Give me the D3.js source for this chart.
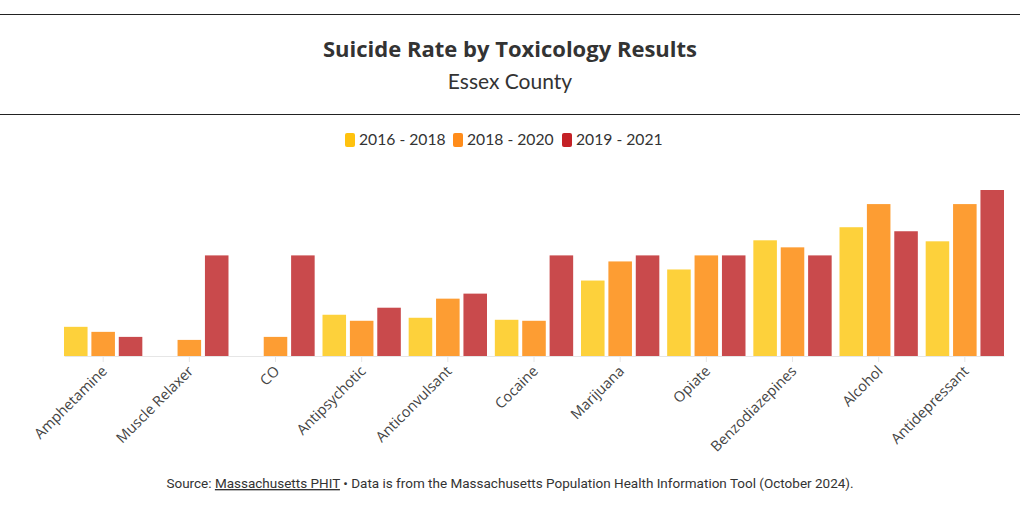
<!DOCTYPE html>
<html>
<head>
<meta charset="utf-8">
<script src="https://cdn.jsdelivr.net/npm/d3@7"></script>
<style>
  html, body { margin: 0; padding: 0; background: #fff; }
  svg { display: block; }
</style>
</head>
<body>
<svg id="chart" width="1020" height="506"></svg>
<script>
// ---- data (relative rate) ----
const categories = ["Amphetamine", "Muscle Relaxer", "CO", "Antipsychotic", "Anticonvulsant",
  "Cocaine", "Marijuana", "Opiate", "Benzodiazepines", "Alcohol", "Antidepressant"];
const seriesNames = ["2016 - 2018", "2018 - 2020", "2019 - 2021"];
const values2016_2018 = [0.29, null, null, 0.41, 0.38, 0.36, 0.75, 0.86, 1.15, 1.28, 1.14];
const values2018_2020 = [0.24, 0.16, 0.19, 0.35, 0.57, 0.35, 0.94, 1.00, 1.08, 1.51, 1.51];
const values2019_2021 = [0.19, 1.00, 1.00, 0.48, 0.62, 1.00, 1.00, 1.00, 1.00, 1.24, 1.65];
const seriesValues = [values2016_2018, values2018_2020, values2019_2021];
const legendColors = ["#FFC20E", "#FF8C1A", "#C42126"];
const barColors = ["#FDD13B", "#FD9D33", "#C94A4C"];

const svg = d3.select("#chart");
const W = 1020;
const textColor = "#333";

// header rules
svg.append("line").attr("x1", 0).attr("x2", W).attr("y1", 14.5).attr("y2", 14.5)
  .attr("stroke", "#222").attr("stroke-width", 1);
svg.append("line").attr("x1", 0).attr("x2", W).attr("y1", 114.5).attr("y2", 114.5)
  .attr("stroke", "#222").attr("stroke-width", 1);

svg.append("text").attr("x", W / 2).attr("y", 57).attr("text-anchor", "middle")
  .attr("font-family", "'Open Sans', sans-serif").attr("font-weight", 700).attr("font-size", 22)
  .attr("fill", textColor).text("Suicide Rate by Toxicology Results");
svg.append("text").attr("x", W / 2).attr("y", 89).attr("text-anchor", "middle")
  .attr("font-family", "Lato, sans-serif").attr("font-size", 21)
  .attr("fill", textColor).text("Essex County");

// legend
const legendX = [345, 453, 562];
const lg = svg.append("g");
seriesNames.forEach((name, i) => {
  lg.append("rect").attr("x", legendX[i]).attr("y", 133).attr("width", 10).attr("height", 14)
    .attr("rx", 2).attr("fill", legendColors[i]);
  lg.append("text").attr("x", legendX[i] + 14).attr("y", 145)
    .attr("font-family", "Lato, sans-serif").attr("font-size", 15.7)
    .attr("fill", textColor).text(name);
});

// scales
const x0 = d3.scaleBand().domain(categories).range([64, 1004]).paddingInner(0.091).paddingOuter(0);
const x1 = d3.scaleBand().domain(seriesNames).range([0, x0.bandwidth()]).paddingInner(0.14);
const y = d3.scaleLinear().domain([0, 1.65]).range([356, 190]);

const groups = svg.append("g").selectAll("g").data(categories).join("g")
  .attr("transform", d => `translate(${x0(d)},0)`);
groups.selectAll("rect")
  .data((d, ci) => seriesNames.map((s, si) => ({ s, si, v: seriesValues[si][ci] })).filter(o => o.v != null))
  .join("rect")
  .attr("x", o => x1(o.s)).attr("width", x1.bandwidth())
  .attr("y", o => y(o.v)).attr("height", o => y(0) - y(o.v))
  .attr("fill", o => barColors[o.si]);

// x axis
const ax = svg.append("g").attr("transform", `translate(0,${y(0)})`)
  .call(d3.axisBottom(x0).tickSize(6).tickSizeOuter(0));
ax.select(".domain").attr("stroke", "#e6e6e6");
ax.selectAll(".tick line").attr("stroke", "#e6e6e6");
ax.selectAll(".tick text")
  .attr("font-family", "'Open Sans', sans-serif").attr("font-size", 14.5).attr("fill", "#444")
  .attr("text-anchor", "end")
  .attr("transform", "translate(-3,4) rotate(-45)")
  .attr("dy", "0.35em").attr("dx", "-0.2em").attr("y", 9).attr("x", 0);

// source
const src = svg.append("text").attr("x", W / 2 - 0).attr("y", 488).attr("text-anchor", "middle")
  .attr("font-family", "Roboto, sans-serif").attr("font-size", 13.5).attr("fill", textColor);
src.append("tspan").text("Source: ");
src.append("tspan").attr("text-decoration", "underline").text("Massachusetts PHIT");
src.append("tspan").text(" \u2022 Data is from the Massachusetts Population Health Information Tool (October 2024).");
</script>
</body>
</html>
